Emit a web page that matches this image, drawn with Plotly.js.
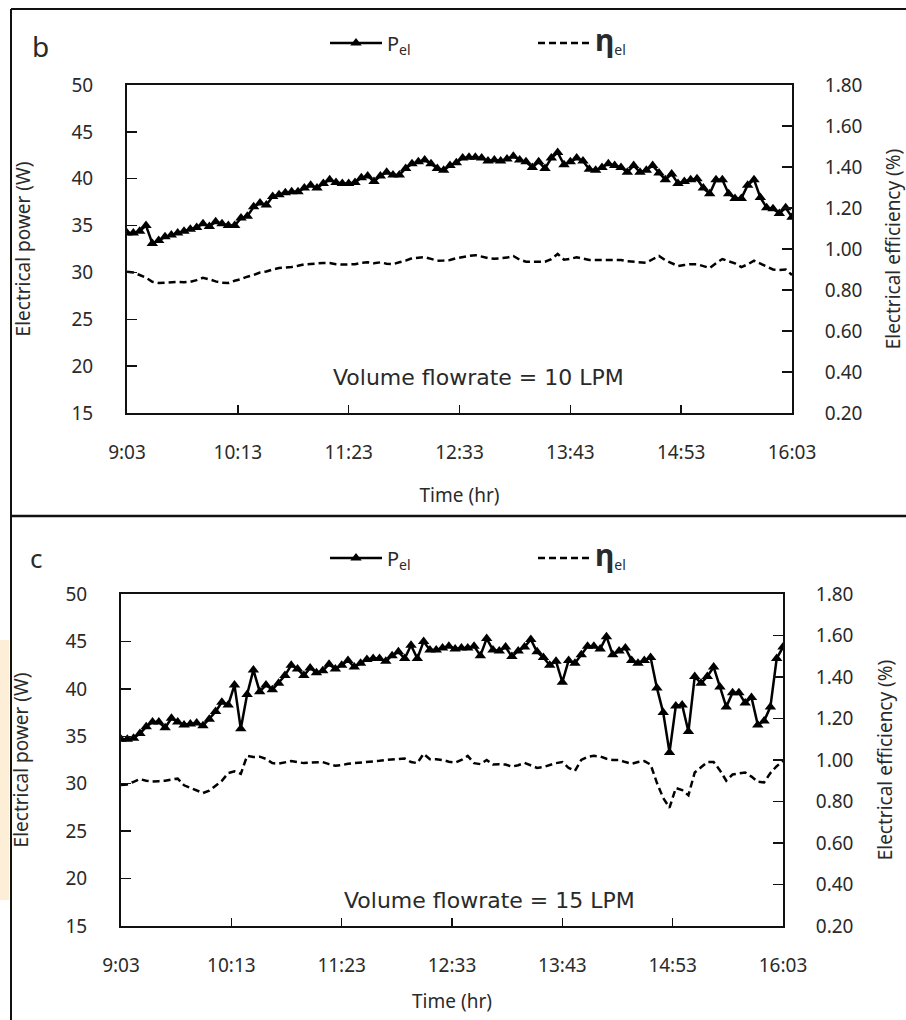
<!DOCTYPE html>
<html>
<head>
<meta charset="utf-8">
<script src="https://cdn.plot.ly/plotly-3.0.1.min.js"></script>
<style>
html,body{margin:0;padding:0;background:#fff;}
#chart{width:906px;height:1020px;}
</style>
</head>
<body>
<div id="chart"></div>
<script>
// Time axis (minutes after 9:03)
const minutes = [0,4,8,12,16,20,24,28,32,36,40,44,48,52,56,60,64,68,72,76,80,84,88,92,96,100,104,108,112,116,120,124,128,132,136,140,144,148,152,156,160,164,168,172,176,180,184,188,192,196,200,204,208,212,216,220,224,228,232,236,240,244,248,252,256,260,264,268,272,276,280,284,288,292,296,300,304,308,312,316,320,324,328,332,336,340,344,348,352,356,360,364,368,372,376,380,384,388,392,396,400,404,408,412,416,420];
const tickMinutes = [0,70,140,210,280,350,420];
const tickLabels = ["9:03","10:13","11:23","12:33","13:43","14:53","16:03"];

// Panel b: 10 LPM
const pTop = [34.2,34.2,34.4,35.0,33.1,33.4,33.8,34.0,34.2,34.4,
34.6,34.8,35.2,34.9,35.4,35.2,35.0,35.0,35.8,36.0,
37.0,37.4,37.2,38.1,38.3,38.5,38.6,38.6,39.0,39.3,
39.0,39.5,39.9,39.6,39.5,39.5,39.6,40.1,40.3,39.7,
40.3,40.7,40.4,40.4,41.1,41.6,41.8,42.0,41.6,41.1,
40.9,41.4,41.7,42.2,42.3,42.3,42.2,41.9,42.0,41.9,
42.1,42.4,42.0,41.8,41.2,41.8,41.1,42.2,42.8,41.5,
41.8,42.2,41.9,41.0,40.9,41.2,41.6,41.4,41.2,40.7,
41.4,40.7,40.9,41.4,40.6,39.9,40.5,39.5,39.7,39.9,
40.0,39.0,38.4,39.9,39.9,38.4,37.9,37.9,39.3,39.9,
38.0,36.9,36.8,36.3,36.9,35.9];
const etaTop = [0.889,0.885,0.873,0.86,0.84,0.834,0.836,0.838,0.84,0.838,
0.84,0.848,0.86,0.852,0.842,0.836,0.834,0.845,0.853,0.865,
0.873,0.885,0.89,0.9,0.907,0.91,0.912,0.918,0.925,0.927,
0.93,0.932,0.932,0.926,0.924,0.924,0.926,0.933,0.935,0.93,
0.935,0.928,0.926,0.935,0.943,0.955,0.958,0.96,0.952,0.943,
0.944,0.946,0.955,0.962,0.966,0.97,0.962,0.956,0.952,0.955,
0.958,0.966,0.948,0.938,0.938,0.94,0.938,0.95,0.976,0.948,
0.952,0.96,0.952,0.946,0.946,0.946,0.946,0.946,0.946,0.94,
0.938,0.935,0.933,0.95,0.966,0.945,0.93,0.917,0.922,0.926,
0.926,0.918,0.907,0.93,0.951,0.94,0.93,0.912,0.925,0.943,
0.93,0.915,0.9,0.898,0.9,0.873];

// Panel c: 15 LPM
const pBot = [34.7,34.7,34.8,35.3,36.0,36.5,36.5,35.9,36.9,36.5,
36.2,36.3,36.4,36.1,36.8,37.6,38.6,38.3,40.4,35.8,
39.4,42.0,39.7,40.4,39.9,40.6,41.4,42.5,42.1,41.4,
42.2,41.7,41.9,42.6,42.1,42.5,43.0,42.3,42.7,43.1,
43.2,43.2,42.9,43.5,43.9,43.2,44.6,43.2,45.0,44.1,
44.1,44.3,44.5,44.2,44.3,44.3,44.5,43.5,45.3,44.1,
44.0,44.4,43.4,44.0,44.4,45.2,43.9,43.3,42.5,42.9,
40.7,43.0,42.7,43.6,44.5,44.5,44.2,45.5,43.6,44.0,
44.3,43.0,42.7,43.0,43.3,40.1,37.5,33.3,38.2,38.3,
35.5,41.3,40.6,41.3,42.3,40.2,38.1,39.6,39.6,38.5,
39.1,36.2,36.6,38.1,43.2,44.4];
const etaBot = [0.88,0.882,0.895,0.908,0.9,0.896,0.898,0.9,0.906,0.91,
0.878,0.865,0.852,0.841,0.852,0.875,0.9,0.937,0.945,0.933,
1.02,1.014,1.016,1.005,0.985,0.982,0.99,0.995,0.99,0.985,
0.987,0.99,0.99,0.98,0.972,0.975,0.982,0.985,0.987,0.99,
0.992,0.996,1.0,1.003,1.004,1.007,0.99,0.985,1.03,1.004,
1.004,1.0,0.992,0.987,1.0,1.02,0.985,0.98,1.0,0.978,
0.98,0.978,0.968,0.975,0.986,0.975,0.962,0.966,0.975,0.985,
0.99,0.962,0.947,1.0,1.015,1.02,1.017,1.006,1.0,1.0,
0.99,0.982,0.99,0.995,0.978,0.89,0.817,0.77,0.865,0.855,
0.83,0.94,0.965,0.99,0.99,0.95,0.9,0.93,0.935,0.94,
0.92,0.895,0.892,0.937,0.97,0.995];

const W = 906, H = 1020;
const px = v => v / W;
const py = v => 1 - v / H;

const TXT = '#2a2a2a';
const FONT = 'Noto Sans, Open Sans, sans-serif';

const pName = 'P<sub>el</sub>';
const eName = '<b><span style="font-size:30px">η</span></b><sub>el</sub>';

function pTrace(y, xa, ya, lg) {
  return {x: minutes, y: y, xaxis: xa, yaxis: ya, legend: lg, name: pName,
    type: 'scatter', mode: 'lines+markers',
    line: {color: '#000', width: 2.5},
    marker: {symbol: 'triangle-up', size: 10, color: '#000'}};
}
function eTrace(y, xa, ya, lg) {
  return {x: minutes, y: y, xaxis: xa, yaxis: ya, legend: lg, name: eName,
    type: 'scatter', mode: 'lines',
    line: {color: '#000', width: 2.5, dash: '7px,4px'}};
}

const data = [
  pTrace(pTop, 'x', 'y', 'legend'),
  eTrace(etaTop, 'x', 'y2', 'legend'),
  pTrace(pBot, 'x2', 'y3', 'legend2'),
  eTrace(etaBot, 'x2', 'y4', 'legend2')
];

function xAxis(dom, anchor, tstand) {
  return {domain: dom, anchor: anchor, range: [0, 420],
    tickmode: 'array', tickvals: tickMinutes, ticktext: tickLabels,
    ticks: 'inside', ticklen: 8, tickwidth: 1.5, tickcolor: '#111',
    showline: true, linewidth: 2, linecolor: '#111', mirror: true,
    showgrid: false, zeroline: false,
    tickfont: {size: 19, color: TXT}, ticklabelstandoff: 21,
    title: {text: 'Time (hr)', font: {size: 19, color: TXT}, standoff: tstand}};
}
function yLeft(dom, anchor, tstand) {
  return {domain: dom, anchor: anchor, range: [15, 50],
    tickmode: 'linear', tick0: 15, dtick: 5,
    ticks: 'inside', ticklen: 10, tickwidth: 1.5, tickcolor: '#111',
    showline: true, linewidth: 2, linecolor: '#111',
    showgrid: false, zeroline: false,
    tickfont: {size: 19, color: TXT}, ticklabelstandoff: 28,
    title: {text: 'Electrical power (W)', font: {size: 19, color: TXT}, standoff: tstand}};
}
function yRight(over, anchor) {
  return {overlaying: over, anchor: anchor, side: 'right', range: [0.2, 1.8],
    tickmode: 'linear', tick0: 0.2, dtick: 0.2, tickformat: '.2f',
    ticks: 'inside', ticklen: 10, tickwidth: 1.5, tickcolor: '#111',
    showline: true, linewidth: 2, linecolor: '#111',
    showgrid: false, zeroline: false,
    tickfont: {size: 19, color: TXT}, ticklabelstandoff: 27,
    title: {text: 'Electrical efficiency (%)', font: {size: 19, color: TXT}, standoff: 26}};
}

function legendAt(yc) {
  return {orientation: 'h', x: px(325), xanchor: 'left', y: yc, yanchor: 'middle',
    font: {size: 20, color: TXT}, bgcolor: 'rgba(0,0,0,0)',
    itemwidth: 52, entrywidth: 141, entrywidthmode: 'pixels', traceorder: 'normal'};
}

const frame = {type: 'line', xref: 'paper', yref: 'paper', line: {color: '#111', width: 2}};

const layout = {
  width: W, height: H,
  margin: {l: 0, r: 0, t: 0, b: 0},
  paper_bgcolor: '#fff', plot_bgcolor: 'rgba(0,0,0,0)',
  font: {family: FONT, color: TXT, size: 19},
  showlegend: true,
  xaxis: xAxis([px(127), px(792)], 'y', 25),
  yaxis: yLeft([py(413), py(85)], 'x', 36),
  yaxis2: yRight('y', 'x'),
  xaxis2: xAxis([px(121), px(783)], 'y3', 18),
  yaxis3: yLeft([py(926), py(594)], 'x2', 32),
  yaxis4: yRight('y3', 'x2'),
  legend: legendAt(py(43)),
  legend2: legendAt(py(558)),
  annotations: [
    {text: 'b', xref: 'paper', yref: 'paper', x: px(40), y: py(46), showarrow: false,
     font: {size: 28, color: TXT}, xanchor: 'center', yanchor: 'middle'},
    {text: 'c', xref: 'paper', yref: 'paper', x: px(36), y: py(558), showarrow: false,
     font: {size: 26, color: TXT}, xanchor: 'center', yanchor: 'middle'},
    {text: 'Volume flowrate = 10 LPM', xref: 'paper', yref: 'paper', x: px(478), y: py(377),
     showarrow: false, font: {family: 'DejaVu Sans, Verdana, sans-serif', size: 22, color: TXT},
     xanchor: 'center', yanchor: 'middle'},
    {text: 'Volume flowrate = 15 LPM', xref: 'paper', yref: 'paper', x: px(489), y: py(900),
     showarrow: false, font: {family: 'DejaVu Sans, Verdana, sans-serif', size: 22, color: TXT},
     xanchor: 'center', yanchor: 'middle'}
  ],
  shapes: [
    Object.assign({x0: px(11), x1: 1, y0: py(9), y1: py(9)}, frame),
    Object.assign({x0: px(11), x1: px(11), y0: py(9), y1: 0}, frame),
    Object.assign({x0: px(11), x1: 1, y0: py(516), y1: py(516)}, {type: 'line', xref: 'paper', yref: 'paper', line: {color: '#111', width: 2.5}}),
    {type: 'rect', xref: 'paper', yref: 'paper', x0: 0, x1: px(9), y0: py(900), y1: py(640),
     fillcolor: 'rgba(246,205,140,0.35)', line: {width: 0}, layer: 'below'}
  ]
};

Plotly.newPlot('chart', data, layout, {displayModeBar: false, staticPlot: true});
</script>
</body>
</html>
